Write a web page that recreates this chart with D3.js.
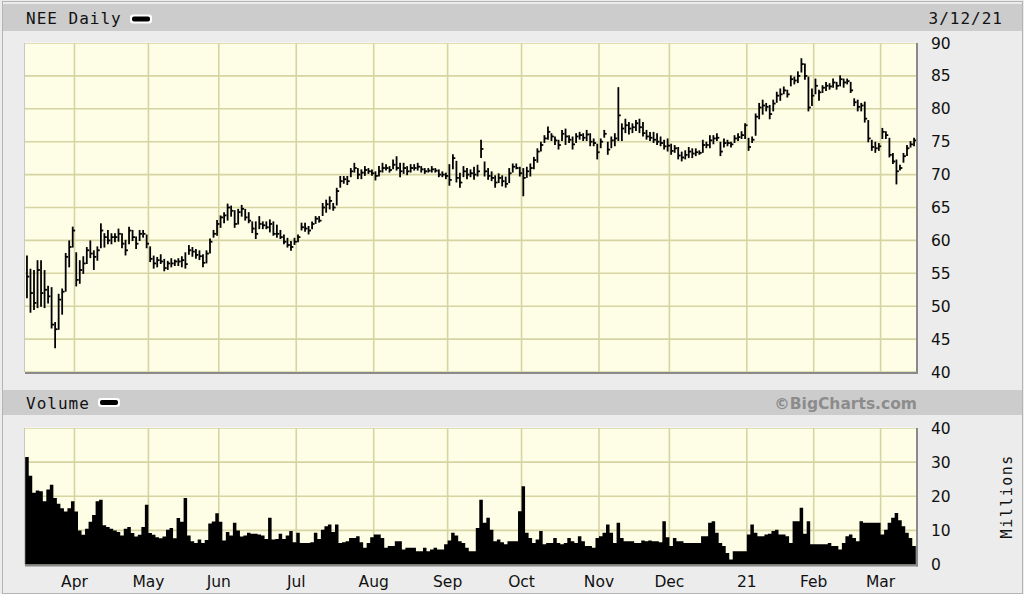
<!DOCTYPE html>
<html><head><meta charset="utf-8">
<script src="https://cdn.jsdelivr.net/npm/d3@7"></script>
<style>html,body{margin:0;padding:0;background:#ececec;}svg{display:block}</style>
</head><body><svg id="c" width="1024" height="594"></svg>
<script>
// ---- data ----
const title = "NEE Daily";
const dateLabel = "3/12/21";
const monthLabels = ["Mar","Apr","May","Jun","Jul","Aug","Sep","Oct","Nov","Dec","21","Feb","Mar"];
const monthDays   = [14,21,20,22,22,21,21,22,20,22,19,19,10];
const priceTicks  = [40,45,50,55,60,65,70,75,80,85,90];
const volumeTicks = [0,10,20,30,40];

const high = [
57.6,55.6,55.4,56.9,56.9,55.4,53.0,52.8,47.5,51.8,52.6,58.0,59.9,62.0,
58.1,56.9,57.5,58.9,59.9,58.4,59.0,62.5,61.0,61.5,61.0,61.0,61.7,61.0,60.0,62.0,61.5,60.5,61.5,61.5,60.8,
59.0,57.6,57.4,57.8,57.1,56.8,57.2,57.0,57.2,57.5,58.1,59.2,58.9,58.6,58.4,57.8,58.4,60.2,61.5,63.0,
63.7,64.2,65.5,65.2,64.5,64.7,65.3,64.7,64.2,62.8,62.8,63.6,62.8,62.8,63.1,62.8,62.3,61.5,60.8,60.3,59.8,60.3,
60.8,62.6,62.6,62.1,62.8,63.6,63.6,65.6,66.1,66.6,65.6,67.9,69.7,69.7,69.7,70.9,71.7,70.9,70.7,71.2,70.9,70.7,
70.4,71.2,71.7,71.5,71.2,72.2,72.7,71.7,71.7,71.2,71.5,71.5,71.7,71.2,70.9,70.9,71.2,70.9,70.7,70.4,70.2,
71.5,73.0,72.0,70.2,71.2,70.9,70.7,71.1,71.4,75.2,71.9,70.9,70.4,69.8,70.1,69.8,69.6,70.9,71.6,71.6,71.1,
70.9,71.1,71.6,72.6,73.9,74.9,75.9,77.2,76.2,75.7,75.2,76.7,76.9,75.9,75.7,76.2,76.4,76.2,76.7,76.2,75.4,74.6,
75.4,76.7,74.9,75.7,76.2,83.2,77.7,78.4,77.9,77.7,78.2,78.4,77.9,76.7,76.4,76.4,76.2,75.7,75.2,75.4,
74.6,74.4,74.1,73.4,73.6,74.1,73.9,73.9,73.6,75.2,74.9,75.9,75.9,76.2,74.9,75.4,75.2,74.9,75.9,76.2,76.5,77.7,
75.5,75.7,79.2,80.8,81.3,80.8,80.5,81.3,82.5,83.0,83.3,82.8,85.0,84.8,85.6,87.6,86.8,84.8,83.0,
84.5,82.8,83.5,84.0,83.8,84.5,84.0,85.0,84.5,84.5,84.0,81.5,81.3,80.8,81.0,78.2,75.2,74.9,74.7,
77.0,76.5,75.5,73.2,72.2,71.4,73.2,74.4,75.0,75.5];
const low = [
51.3,49.1,49.5,49.8,50.0,49.8,50.5,46.7,43.7,46.5,48.8,52.3,56.0,59.0,
53.1,53.5,55.0,56.5,57.4,55.6,57.0,58.9,59.0,59.5,59.5,59.8,59.9,58.9,57.8,59.5,60.0,58.8,60.0,60.5,58.9,
56.8,55.8,56.0,56.5,55.4,55.6,56.0,56.2,56.2,56.0,55.8,57.9,57.6,57.3,57.1,56.0,56.6,58.1,60.5,60.8,
62.0,62.7,63.1,63.7,62.0,62.5,63.7,63.1,62.7,61.2,60.3,61.8,61.8,61.8,61.3,60.8,60.5,60.3,59.5,59.0,58.5,59.4,
59.8,61.6,61.4,61.0,61.8,62.6,62.8,63.8,64.3,64.8,64.6,65.4,68.1,68.7,68.5,69.7,70.4,69.4,69.4,69.9,70.2,69.9,
69.2,69.8,70.4,70.7,70.4,70.9,70.7,69.7,70.2,70.0,70.4,70.7,70.7,70.4,70.2,70.4,70.4,70.4,69.7,69.7,69.4,
68.4,70.9,68.9,68.1,69.7,69.4,69.7,69.3,69.8,72.6,69.8,69.3,69.1,68.1,68.8,68.3,68.1,68.8,70.4,70.9,69.8,
66.8,69.6,69.8,70.9,71.9,73.6,74.9,75.4,75.2,74.6,73.9,75.2,74.6,74.9,73.9,74.9,75.4,75.2,75.2,74.4,74.4,72.4,
74.1,75.7,73.1,74.1,74.4,75.2,75.2,76.4,76.2,76.4,76.7,76.4,75.9,75.4,75.2,74.9,74.6,74.4,73.9,73.6,
73.1,73.4,72.4,72.1,72.4,72.6,72.6,72.9,73.1,73.4,74.1,74.1,74.7,75.2,72.9,74.2,74.4,74.2,74.9,75.2,75.5,75.5,
73.7,74.9,76.0,78.5,79.2,79.7,78.5,79.7,81.0,81.3,82.3,81.8,83.5,83.8,84.0,85.6,84.5,79.7,80.5,
82.3,81.3,82.5,82.8,83.0,83.3,83.0,83.5,83.3,83.8,82.5,80.5,79.7,79.7,78.0,75.0,73.7,73.4,73.7,
75.5,75.5,72.7,71.7,68.6,70.7,71.9,72.9,74.2,74.4];
const close = [
54.5,52.0,50.5,55.5,52.0,52.5,51.5,47.2,46.5,51.0,52.2,57.5,59.0,61.5,
54.0,55.5,56.5,58.5,58.0,57.5,58.5,61.5,60.5,60.0,60.5,60.5,61.0,59.5,58.5,61.5,60.5,59.5,61.0,61.0,59.5,
57.2,56.5,57.0,56.8,55.8,56.5,56.5,56.8,56.8,57.0,56.4,58.5,58.3,57.8,57.6,56.6,58.0,59.8,61.0,62.5,
63.5,63.8,65.0,64.5,62.5,64.3,64.8,63.5,63.0,61.8,61.0,62.5,62.3,62.0,62.5,61.0,61.0,60.5,59.8,59.3,59.0,59.8,
60.5,62.0,61.8,61.5,62.5,63.3,63.0,65.0,65.5,66.0,65.0,67.5,69.0,69.3,69.0,70.5,71.0,70.0,70.3,70.7,70.5,70.2,
69.8,70.5,71.0,71.0,70.7,71.5,71.0,70.5,71.0,70.5,71.0,71.0,71.2,70.8,70.5,70.6,70.8,70.6,70.0,70.0,69.8,
69.2,72.5,69.5,68.8,70.5,70.0,70.2,70.0,70.5,73.9,70.5,69.8,69.5,68.8,69.5,69.0,68.6,70.2,71.2,71.0,70.2,
69.5,70.5,71.0,72.2,73.5,74.5,75.5,76.5,75.8,75.2,74.5,76.2,75.8,75.3,74.6,75.8,76.0,75.6,76.1,75.0,74.8,73.4,
75.0,76.2,73.8,75.2,75.5,79.0,77.0,77.5,77.0,77.2,77.8,77.2,76.3,75.8,75.6,75.3,75.0,74.8,74.3,74.4,
73.6,74.0,72.9,72.6,73.0,73.5,73.2,73.4,73.3,74.5,74.5,75.2,75.5,75.6,73.5,74.8,74.8,74.6,75.5,75.7,76.0,77.5,
74.2,75.3,78.8,80.2,80.5,80.3,79.2,80.8,82.0,82.2,82.8,82.2,84.5,84.3,85.0,86.8,85.0,80.2,82.0,
83.5,82.5,83.2,83.5,83.4,84.0,83.5,84.5,84.0,84.2,82.8,81.0,80.3,80.5,78.5,75.5,74.2,74.0,74.3,
76.5,76.0,73.0,72.0,70.5,71.0,72.8,74.0,74.6,75.2];
const volume = [
31.5,26,21,21.7,21.5,18.5,22,23.4,19.5,17.8,16.5,15.5,16.5,18.5,
15.5,10,8.7,10.5,12.5,14.5,18.5,19,11.5,11,10.5,10,9.5,8.5,10.5,11,9.2,8.2,8.7,11,17.5,
9.2,8.7,8,7.7,8.2,10.2,10.7,7.7,13.6,12.5,19.5,8.5,6.8,6.3,7.3,6.3,7.2,12,12.6,15,
12.5,7,9.5,8.5,12.2,10,8.2,8.5,9.3,9,9,8.8,8.5,7.5,13.7,7.3,7.5,9,7.5,8.5,9.8,6.5,
9.3,6.3,6.3,6.3,6.5,9.3,7.5,10.2,11.2,11.7,9.5,11.7,6.3,6.5,6.8,7.8,7.8,8.3,6.5,4.9,6.3,8,
8.8,8.8,7.8,4.9,5.4,5.4,6.8,6.8,4.4,4.9,4.9,4.9,3.9,3.9,4.9,3.9,4.4,4.9,4.4,4.4,5.9,
7,9.3,8.5,6.8,6.3,4.9,3.9,3.9,10.7,19,12.2,13.7,10.2,6.8,7.3,6.5,5.9,6.8,6.8,6.8,15.6,
22.9,9.3,7.8,6.3,7.3,9.8,5.9,6.3,6.3,7.8,6.3,5.9,6.3,7.8,6.8,6.3,8.3,6.8,5.4,5.4,4.9,7.8,
8.3,9.3,11.7,9.3,6.3,12.2,7.8,6.8,6.8,6.8,6.3,6.3,7.0,6.8,7.0,6.8,6.8,6.5,12.7,8.0,
5.4,7.8,6.8,6.8,6.3,6.3,6.3,6.3,6.3,8.3,8.3,12.2,12.7,9.3,6.3,5.4,3.4,1.5,3.9,3.9,3.9,3.9,
8.8,11.7,9.3,8.3,8.3,8.8,9.0,9.8,10.2,8.8,8.8,8.3,6.3,12.7,12.7,16.6,9.0,12.7,5.9,
5.9,5.9,5.9,5.9,6.3,5.4,5.4,4.4,6.3,8.3,8.8,7.8,6.8,12.7,12.2,12.2,12.2,12.2,12.2,
8.8,10.2,12.2,13.7,15.1,13.0,11.2,9.3,7.8,5.4];

// ---- layout ----
const W = 1024, H = 594;
const plotL = 25, plotR = 916;
const pTop = 43, pBot = 372;
const vTop = 428, vBot = 564.5;
const gridCol = "#d6d4a2", fillCol = "#fefee6", barCol = "#cccccc";
const mono = "'DejaVu Sans Mono', monospace";
const sans = "'DejaVu Sans', Verdana, sans-serif";

const svg = d3.select("#c");
const n = high.length;
const x = d3.scaleBand().domain(d3.range(n)).range([plotL + 0.2, plotR - 0.2]);
const bw = x.bandwidth();
const y = d3.scaleLinear().domain([40, 90]).range([pBot, pTop]);
const yv = d3.scaleLinear().domain([0, 40]).range([vBot, vTop]);

const starts = [0, ...d3.cumsum(monthDays)].slice(0, monthDays.length);
const monthTicks = starts.map((s, k) => ({ idx: s, label: monthLabels[k] })).slice(1);

// outer frame
svg.append("rect").attr("x", 0).attr("y", 0).attr("width", W).attr("height", H).attr("fill", "#ececec");
svg.append("rect").attr("x", 2.5).attr("y", 1.5).attr("width", W - 4).attr("height", H - 2).attr("fill", "none").attr("stroke", "#b4b4b4");

// header bars
svg.append("rect").attr("x", 3).attr("y", 4).attr("width", W - 5).attr("height", 27).attr("fill", barCol);
svg.append("rect").attr("x", 3).attr("y", 390).attr("width", W - 5).attr("height", 25).attr("fill", barCol);

function legendDash(x0, y0) {
  svg.append("rect").attr("x", x0).attr("y", y0).attr("width", 22).attr("height", 9).attr("rx", 3).attr("fill", "#fff");
  svg.append("rect").attr("x", x0 + 2).attr("y", y0 + 2).attr("width", 18).attr("height", 5).attr("rx", 2).attr("fill", "#000");
}
svg.append("text").attr("x", 26).attr("y", 24).attr("font-family", mono).attr("font-size", 16)
  .attr("letter-spacing", 1).attr("fill", "#111").text(title);
legendDash(130, 14.5);
svg.append("text").attr("x", 1003).attr("y", 24).attr("text-anchor", "end").attr("font-family", mono)
  .attr("font-size", 16).attr("letter-spacing", 1).attr("fill", "#111").text(dateLabel);

svg.append("text").attr("x", 26).attr("y", 409).attr("font-family", mono).attr("font-size", 16)
  .attr("letter-spacing", 1).attr("fill", "#111").text("Volume");
legendDash(98, 398);
svg.append("text").attr("x", 917).attr("y", 409).attr("text-anchor", "end").attr("font-family", sans)
  .attr("font-weight", "bold").attr("font-size", 15.5).attr("fill", "#8c8c8c").text("\u00A9BigCharts.com");

function panel(top, bot, yScale, ticks) {
  const g = svg.append("g");
  g.append("rect").attr("x", plotL).attr("y", top).attr("width", plotR - plotL).attr("height", bot - top).attr("fill", fillCol);
  g.selectAll("line.h").data(ticks).join("line")
    .attr("x1", plotL).attr("x2", plotR).attr("y1", d => yScale(d)).attr("y2", d => yScale(d))
    .attr("stroke", gridCol).attr("stroke-width", 1.6);
  g.selectAll("line.v").data(monthTicks).join("line")
    .attr("x1", d => x(d.idx)).attr("x2", d => x(d.idx)).attr("y1", top).attr("y2", bot)
    .attr("stroke", gridCol).attr("stroke-width", 1.6);
  return g;
}
const gp = panel(pTop, pBot, y, priceTicks);
const gv = panel(vTop, vBot, yv, volumeTicks);

// volume as one solid stepped area
const volPts = volume.map((v, i) => [x(i), v]).concat([[x(n - 1) + bw, volume[n - 1]]]);
const area = d3.area().curve(d3.curveStepAfter)
  .x(d => d[0]).y0(yv(0)).y1(d => yv(d[1]));
gv.append("path").datum(volPts).attr("d", area).attr("fill", "#000");

// price HLC bars
const idx = d3.range(n);
gp.selectAll("line.hl").data(idx).join("line")
  .attr("x1", i => x(i) + bw / 2).attr("x2", i => x(i) + bw / 2)
  .attr("y1", i => y(high[i]) - 0.6).attr("y2", i => y(low[i]) + 0.6)
  .attr("stroke", "#000").attr("stroke-width", 1.8);
gp.selectAll("line.c").data(idx).join("line")
  .attr("x1", i => x(i) + bw / 2).attr("x2", i => x(i) + bw / 2 + 2.4)
  .attr("y1", i => y(close[i])).attr("y2", i => y(close[i]))
  .attr("stroke", "#000").attr("stroke-width", 1.8);

function frame(top, bot) {
  svg.append("line").attr("x1", plotL).attr("x2", plotR).attr("y1", top - 0.5).attr("y2", top - 0.5).attr("stroke", "#f4f4f4").attr("stroke-width", 1);
  svg.append("line").attr("x1", plotL - 0.5).attr("x2", plotL - 0.5).attr("y1", top).attr("y2", bot).attr("stroke", "#c8c8c8").attr("stroke-width", 1);
  svg.append("line").attr("x1", plotL).attr("x2", plotR + 1.5).attr("y1", bot + 1).attr("y2", bot + 1).attr("stroke", "#8a8a8a").attr("stroke-width", 2);
  svg.append("line").attr("x1", plotR + 1).attr("x2", plotR + 1).attr("y1", top).attr("y2", bot + 2).attr("stroke", "#8a8a8a").attr("stroke-width", 2);
}
frame(pTop, pBot);
frame(vTop, vBot);

svg.append("g").selectAll("text").data(priceTicks).join("text")
  .attr("x", 931).attr("y", d => y(d)).attr("dy", "0.36em")
  .attr("font-family", sans).attr("font-size", 15.5).attr("fill", "#111").text(d => d);
svg.append("g").selectAll("text").data(volumeTicks).join("text")
  .attr("x", 931).attr("y", d => yv(d)).attr("dy", "0.36em")
  .attr("font-family", sans).attr("font-size", 15.5).attr("fill", "#111").text(d => d);
svg.append("text").attr("transform", `translate(1012,${(vTop + vBot) / 2}) rotate(-90)`)
  .attr("text-anchor", "middle").attr("font-family", mono).attr("font-size", 15).attr("letter-spacing", 1.5)
  .attr("fill", "#111").text("Millions");

svg.append("g").selectAll("text").data(monthTicks).join("text")
  .attr("x", d => x(d.idx)).attr("y", 587).attr("text-anchor", "middle")
  .attr("font-family", sans).attr("font-size", 15.5).attr("fill", "#111").text(d => d.label);
</script></body></html>
